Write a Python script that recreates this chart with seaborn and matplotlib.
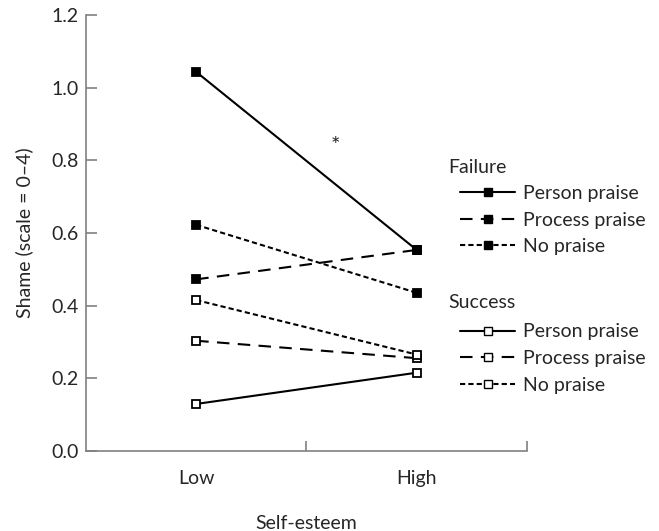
import numpy as np
import pandas as pd
import seaborn as sns
import matplotlib
matplotlib.use("Agg")
import matplotlib.pyplot as plt
from matplotlib.lines import Line2D

# values
esteem = ["Low", "High"]
fail_person = [1.043, 0.553]
fail_process = [0.472, 0.553]
fail_none = [0.622, 0.435]
succ_person = [0.129, 0.215]
succ_process = [0.303, 0.255]
succ_none = [0.415, 0.265]

praise_names = ["Person praise", "Process praise", "No praise"]
dash_styles = {"Person praise": None, "Process praise": (6, 4), "No praise": (2.5, 1.5)}

FS = 14

sns.set_style("ticks")
plt.rcParams["font.family"] = ["Lato", "DejaVu Sans"]
plt.rcParams["font.size"] = FS

fig = plt.figure(figsize=(6.59, 5.31), dpi=100)
ax = fig.add_axes([0.1305, 0.151, 0.669, 0.821])

series = [
    ("Failure", "Person praise", fail_person),
    ("Failure", "Process praise", fail_process),
    ("Failure", "No praise", fail_none),
    ("Success", "Person praise", succ_person),
    ("Success", "Process praise", succ_process),
    ("Success", "No praise", succ_none),
]

for outcome, praise, vals in series:
    df = pd.DataFrame({"esteem": esteem, "shame": vals})
    fc = "black" if outcome == "Failure" else "white"
    sns.lineplot(data=df, x="esteem", y="shame", color="black", marker="s",
                 markersize=6, markeredgecolor="black", markerfacecolor=fc,
                 markeredgewidth=1.3, linewidth=1.5, ax=ax)
    ln = ax.lines[-1]
    if dash_styles[praise] is not None:
        ln.set_dashes(dash_styles[praise])

ax.set_xlim(-0.5, 1.5)
ax.set_ylim(0, 1.2)
ax.set_yticks(np.arange(0, 1.21, 0.2))
ax.set_yticklabels([f"{v:.1f}" for v in np.arange(0, 1.21, 0.2)])
ax.set_xticks([0, 1])
ax.set_xticklabels(esteem)
ax.set_xticks([0.5, 1.5], minor=True)
ax.tick_params(axis="x", which="major", length=0, pad=14)
ax.tick_params(axis="x", which="minor", direction="in", length=7, width=1.2, color="#808080")
ax.tick_params(axis="y", direction="in", length=8, width=1.2, color="#808080", pad=5)

for side in ["top", "right"]:
    ax.spines[side].set_visible(False)
for side in ["left", "bottom"]:
    ax.spines[side].set_color("#808080")
    ax.spines[side].set_linewidth(1.2)

ax.set_xlabel("Self-esteem", labelpad=20)
ax.set_ylabel("Shame (scale = 0–4)", labelpad=13)

ax.text(0.63, 0.84, "*", ha="center", va="center", fontsize=16)

# two stacked legends, group titles drawn as separate text
def make_handles(fc):
    hs = []
    for p in praise_names:
        h = Line2D([], [], color="black", marker="s", markersize=5.5,
                   markerfacecolor=fc, markeredgecolor="black", linewidth=1.5)
        if dash_styles[p] is not None:
            h.set_dashes(dash_styles[p])
        hs.append(h)
    return hs

leg_kw = dict(loc="upper left", frameon=False, handlelength=2.85, handletextpad=0.4,
              labelspacing=0.5, fontsize=FS, borderaxespad=0, borderpad=0)
fig.legend(make_handles("black"), praise_names, bbox_to_anchor=(0.698, 0.652), **leg_kw)
fig.legend(make_handles("white"), praise_names, bbox_to_anchor=(0.698, 0.391), **leg_kw)
fig.text(0.680, 0.685, "Failure", ha="left", va="center", fontsize=FS)
fig.text(0.680, 0.431, "Success", ha="left", va="center", fontsize=FS)

fig.savefig("out.png", dpi=100)
